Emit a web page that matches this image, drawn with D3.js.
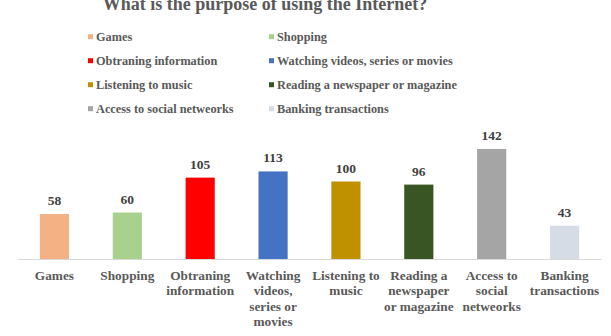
<!DOCTYPE html>
<html>
<head>
<meta charset="utf-8">
<script src="https://cdn.jsdelivr.net/npm/d3@7"></script>
<style>
  body { margin: 0; background: #fff; }
  text { font-family: "Liberation Serif", "Times New Roman", serif; font-weight: bold; }
</style>
</head>
<body>
<script>
// chart data
var categories = ["Games", "Shopping", "Obtraning information", "Watching videos, series or movies",
  "Listening to music", "Reading a newspaper or magazine", "Access to social netweorks", "Banking transactions"]
var values = [58, 60, 105, 113, 100, 96, 142, 43]
var colors = ["#F4B183", "#A9D18E", "#FF0000", "#4472C4", "#BF9000", "#375623", "#A5A5A5", "#D6DCE5"]
// wrapped axis labels, as in the picture
var tickLines = [["Games"], ["Shopping"], ["Obtraning", "information"], ["Watching", "videos,", "series or", "movies"],
  ["Listening to", "music"], ["Reading a", "newspaper", "or magazine"], ["Access to", "social", "netweorks"], ["Banking", "transactions"]]

var W = 611, H = 336
var svg = d3.select("body").append("svg").attr("width", W).attr("height", H)

var x = d3.scaleBand().domain(categories).range([18, 601]).paddingInner(0.6).paddingOuter(0.3)
var y = d3.scaleLinear().domain([0, 160]).range([259, 135])

// title (cut off at the top)
svg.append("text")
  .attr("x", 265).attr("y", 10)
  .attr("text-anchor", "middle")
  .style("font-size", "18px")
  .style("fill", "#595959")
  .text("What is the purpose of using the Internet?")

// legend, two columns
var legend = svg.append("g").selectAll("g")
  .data(categories)
  .enter().append("g")
  .attr("transform", function(d, i) {
    return "translate(" + (i % 2 == 0 ? 88 : 269) + "," + (36.7 + Math.floor(i / 2) * 24) + ")"
  })
legend.append("rect")
  .attr("x", 0).attr("y", -2.5).attr("width", 5).attr("height", 5)
  .attr("fill", function(d, i) { return colors[i] })
legend.append("text")
  .attr("x", 8).attr("y", 4.3)
  .style("font-size", "12.3px")
  .style("fill", "#595959")
  .text(function(d) { return d })

// bars
svg.append("g").selectAll("rect")
  .data(values)
  .enter().append("rect")
  .attr("x", function(d, i) { return x(categories[i]) })
  .attr("width", x.bandwidth())
  .attr("y", function(d) { return y(d) })
  .attr("height", function(d) { return y(0) - y(d) })
  .attr("fill", function(d, i) { return colors[i] })

// value labels
svg.append("g").selectAll("text")
  .data(values)
  .enter().append("text")
  .attr("x", function(d, i) { return x(categories[i]) + x.bandwidth() / 2 })
  .attr("y", function(d) { return y(d) - 9 })
  .attr("text-anchor", "middle")
  .style("font-size", "13.5px")
  .style("fill", "#404040")
  .text(function(d) { return d })

// x axis
var axis = svg.append("g")
  .attr("transform", "translate(0," + y(0) + ")")
  .call(d3.axisBottom(x).tickSize(0).tickFormat(""))
axis.select(".domain").attr("stroke", "#D9D9D9").attr("stroke-width", 1)

axis.selectAll(".tick").each(function(d, i) {
  var t = d3.select(this).select("text")
  t.attr("y", 21).attr("dy", null)
    .style("font-size", "13.3px")
    .style("fill", "#595959")
  tickLines[i].forEach(function(line, k) {
    t.append("tspan").attr("x", 0).attr("y", 21 + k * 15.4).text(line)
  })
})
</script>
</body>
</html>
